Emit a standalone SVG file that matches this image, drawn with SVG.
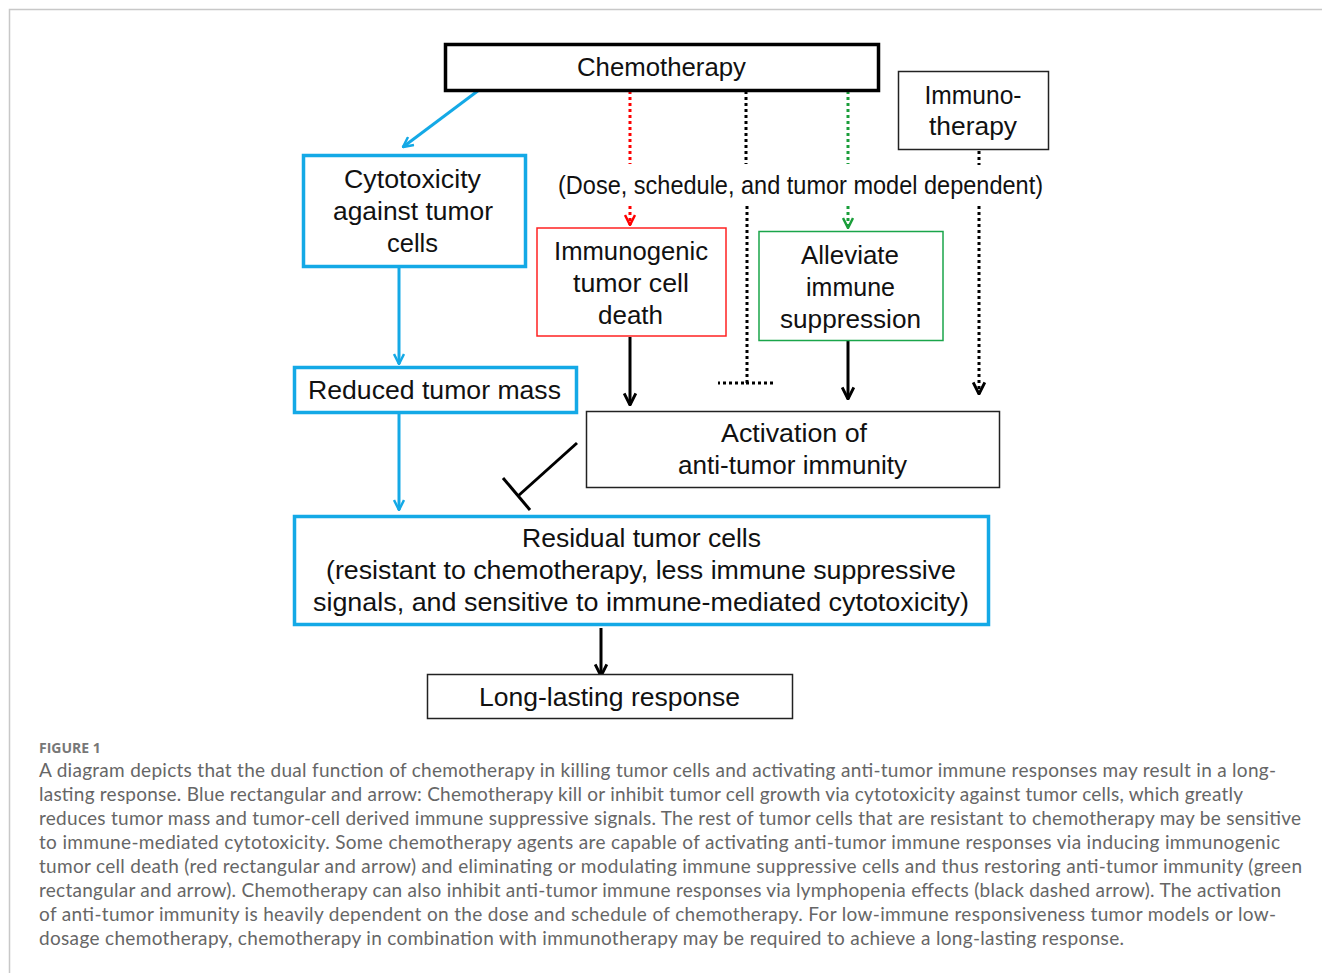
<svg xmlns="http://www.w3.org/2000/svg" width="1322" height="973" viewBox="0 0 1322 973">
<style>
.t{font-family:"Liberation Sans",Arial,sans-serif;font-size:26px;fill:#111;text-anchor:middle}
.blue{fill:#fff;stroke:#14A9E6;stroke-width:3.5}
.thin{fill:#fff;stroke:#222;stroke-width:1.5}
.cap{font-family:Lato,"Open Sans",sans-serif;font-size:19px;fill:#666}
.capt{font-family:"Open Sans",Lato,sans-serif;font-size:14px;fill:#777;font-weight:bold}
</style>
<defs>
<marker id="ab" viewBox="0 0 12 12" refX="11" refY="6" markerWidth="12" markerHeight="12" markerUnits="userSpaceOnUse" orient="auto"><path d="M1,1 L11,6 L1,11" fill="none" stroke="#14A9E6" stroke-width="2.5"/></marker>
<marker id="ak" viewBox="0 0 12 12" refX="11" refY="6" markerWidth="14" markerHeight="14" markerUnits="userSpaceOnUse" orient="auto"><path d="M1,1 L11,6 L1,11" fill="none" stroke="#000" stroke-width="2.5"/></marker>
<marker id="ar" viewBox="0 0 12 12" refX="11" refY="6" markerWidth="12" markerHeight="12" markerUnits="userSpaceOnUse" orient="auto"><path d="M1,1 L11,6 L1,11" fill="none" stroke="#f00" stroke-width="2.5"/></marker>
<marker id="ag" viewBox="0 0 12 12" refX="11" refY="6" markerWidth="12" markerHeight="12" markerUnits="userSpaceOnUse" orient="auto"><path d="M1,1 L11,6 L1,11" fill="none" stroke="#1a9e3a" stroke-width="2.5"/></marker>
</defs>
<rect width="1322" height="973" fill="#fff"/>
<path d="M9.5,973 V9.5 H1322" fill="none" stroke="#c8c8c8" stroke-width="1.5"/>

<g id="connectors" fill="none">
<line x1="479" y1="90" x2="403" y2="147" stroke="#14A9E6" stroke-width="3" marker-end="url(#ab)"/>
<line x1="399" y1="267" x2="399" y2="364" stroke="#14A9E6" stroke-width="3" marker-end="url(#ab)"/>
<line x1="399" y1="413" x2="399" y2="510" stroke="#14A9E6" stroke-width="3" marker-end="url(#ab)"/>
<line x1="630" y1="91" x2="630" y2="164" stroke="#f00" stroke-width="3" stroke-dasharray="3,3"/>
<line x1="630" y1="206" x2="630" y2="225" stroke="#f00" stroke-width="3" stroke-dasharray="3,3" marker-end="url(#ar)"/>
<line x1="848" y1="91" x2="848" y2="164" stroke="#1a9e3a" stroke-width="3" stroke-dasharray="3,3"/>
<line x1="848" y1="206" x2="848" y2="228" stroke="#1a9e3a" stroke-width="3" stroke-dasharray="3,3" marker-end="url(#ag)"/>
<line x1="746" y1="91" x2="746" y2="164" stroke="#000" stroke-width="3" stroke-dasharray="3,3"/>
<path d="M747,206 V383 H718" stroke="#000" stroke-width="3" stroke-dasharray="3,3"/>
<line x1="746" y1="383" x2="775" y2="383" stroke="#000" stroke-width="3" stroke-dasharray="3,3"/>
<line x1="979" y1="151" x2="979" y2="165" stroke="#000" stroke-width="3" stroke-dasharray="3,3"/>
<line x1="979" y1="206" x2="979" y2="394" stroke="#000" stroke-width="3" stroke-dasharray="3,3" marker-end="url(#ak)"/>
<line x1="630" y1="337" x2="630" y2="405" stroke="#000" stroke-width="3" marker-end="url(#ak)"/>
<line x1="848" y1="341" x2="848" y2="399" stroke="#000" stroke-width="3" marker-end="url(#ak)"/>
<line x1="601" y1="628" x2="601" y2="676" stroke="#000" stroke-width="3" marker-end="url(#ak)"/>
<line x1="577" y1="443" x2="518" y2="496" stroke="#000" stroke-width="3"/>
<line x1="503" y1="478" x2="530" y2="510" stroke="#000" stroke-width="3"/>
</g>

<g id="chemo">
<rect x="445.5" y="44.5" width="433" height="46" fill="#fff" stroke="#000" stroke-width="3.5"/>
<text class="t" x="661.5" y="76" textLength="169" lengthAdjust="spacingAndGlyphs">Chemotherapy</text>
</g>
<g id="immuno">
<rect x="898.5" y="71.5" width="150" height="78" class="thin"/>
<text class="t" x="973" y="104" textLength="97" lengthAdjust="spacingAndGlyphs">Immuno-</text>
<text class="t" x="973" y="135" textLength="88" lengthAdjust="spacingAndGlyphs">therapy</text>
</g>
<g id="cyto">
<rect x="303.5" y="155.5" width="222" height="111" class="blue"/>
<text class="t" x="412.5" y="188" textLength="137" lengthAdjust="spacingAndGlyphs">Cytotoxicity</text>
<text class="t" x="413" y="220" textLength="160" lengthAdjust="spacingAndGlyphs">against tumor</text>
<text class="t" x="412.5" y="252" textLength="51" lengthAdjust="spacingAndGlyphs">cells</text>
</g>
<g id="dose">
<text class="t" x="800.5" y="194" textLength="485" lengthAdjust="spacingAndGlyphs">(Dose, schedule, and tumor model dependent)</text>
</g>
<g id="icd">
<rect x="537" y="228" width="189" height="108" fill="#fff" stroke="#f22" stroke-width="1.5"/>
<text class="t" x="631" y="260" textLength="154" lengthAdjust="spacingAndGlyphs">Immunogenic</text>
<text class="t" x="631" y="292" textLength="116" lengthAdjust="spacingAndGlyphs">tumor cell</text>
<text class="t" x="630.5" y="324" textLength="65" lengthAdjust="spacingAndGlyphs">death</text>
</g>
<g id="alleviate">
<rect x="759" y="231.5" width="184" height="109" fill="#fff" stroke="#1aa54a" stroke-width="1.5"/>
<text class="t" x="850" y="264" textLength="98" lengthAdjust="spacingAndGlyphs">Alleviate</text>
<text class="t" x="850.5" y="296" textLength="89" lengthAdjust="spacingAndGlyphs">immune</text>
<text class="t" x="850.5" y="328" textLength="141" lengthAdjust="spacingAndGlyphs">suppression</text>
</g>
<g id="reduced">
<rect x="294.5" y="367.5" width="282" height="45" class="blue"/>
<text class="t" x="434.5" y="399" textLength="253" lengthAdjust="spacingAndGlyphs">Reduced tumor mass</text>
</g>
<g id="activation">
<rect x="586.5" y="411.5" width="413" height="76" class="thin"/>
<text class="t" x="794" y="442" textLength="146" lengthAdjust="spacingAndGlyphs">Activation of</text>
<text class="t" x="792.5" y="474" textLength="229" lengthAdjust="spacingAndGlyphs">anti-tumor immunity</text>
</g>
<g id="residual">
<rect x="294.5" y="516.5" width="694" height="108" class="blue"/>
<text class="t" x="641.5" y="547" textLength="239" lengthAdjust="spacingAndGlyphs">Residual tumor cells</text>
<text class="t" x="641" y="579" textLength="630" lengthAdjust="spacingAndGlyphs">(resistant to chemotherapy, less immune suppressive</text>
<text class="t" x="641" y="611" textLength="656" lengthAdjust="spacingAndGlyphs">signals, and sensitive to immune-mediated cytotoxicity)</text>
</g>
<g id="longlasting">
<rect x="427.5" y="674.5" width="365" height="44" class="thin"/>
<text class="t" x="609.5" y="706" textLength="261" lengthAdjust="spacingAndGlyphs">Long-lasting response</text>
</g>

<g id="caption">
<text class="capt" x="39" y="753">FIGURE 1</text>
<text class="cap" x="39" y="777" textLength="1237" lengthAdjust="spacing">A diagram depicts that the dual function of chemotherapy in killing tumor cells and activating anti-tumor immune responses may result in a long-</text>
<text class="cap" x="39" y="801" textLength="1204" lengthAdjust="spacing">lasting response. Blue rectangular and arrow: Chemotherapy kill or inhibit tumor cell growth via cytotoxicity against tumor cells, which greatly</text>
<text class="cap" x="39" y="825" textLength="1262" lengthAdjust="spacing">reduces tumor mass and tumor-cell derived immune suppressive signals. The rest of tumor cells that are resistant to chemotherapy may be sensitive</text>
<text class="cap" x="39" y="849" textLength="1241" lengthAdjust="spacing">to immune-mediated cytotoxicity. Some chemotherapy agents are capable of activating anti-tumor immune responses via inducing immunogenic</text>
<text class="cap" x="39" y="873" textLength="1263" lengthAdjust="spacing">tumor cell death (red rectangular and arrow) and eliminating or modulating immune suppressive cells and thus restoring anti-tumor immunity (green</text>
<text class="cap" x="39" y="897" textLength="1242" lengthAdjust="spacing">rectangular and arrow). Chemotherapy can also inhibit anti-tumor immune responses via lymphopenia effects (black dashed arrow). The activation</text>
<text class="cap" x="39" y="921" textLength="1237" lengthAdjust="spacing">of anti-tumor immunity is heavily dependent on the dose and schedule of chemotherapy. For low-immune responsiveness tumor models or low-</text>
<text class="cap" x="39" y="945" textLength="1085" lengthAdjust="spacing">dosage chemotherapy, chemotherapy in combination with immunotherapy may be required to achieve a long-lasting response.</text>
</g>
</svg>
